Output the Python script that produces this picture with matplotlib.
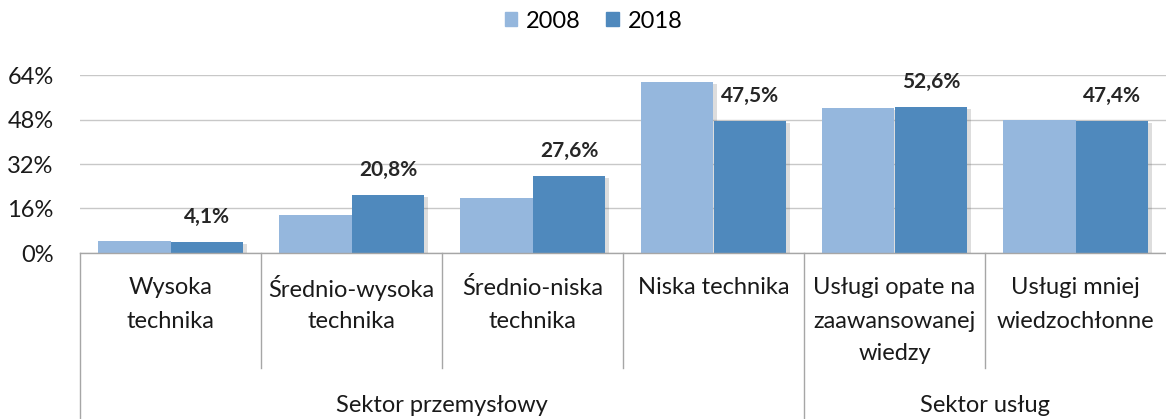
import matplotlib
matplotlib.use("Agg")
import matplotlib.pyplot as plt
import matplotlib.patheffects as pe
from matplotlib.patches import Patch
import numpy as np

plt.rcParams['font.family'] = ['Lato', 'DejaVu Sans']

# data
categories = ["Wysoka\ntechnika", "Średnio-wysoka\ntechnika", "Średnio-niska\ntechnika",
              "Niska technika", "Usługi opate na\nzaawansowanej\nwiedzy", "Usługi mniej\nwiedzochłonne"]
groups = ["Sektor przemysłowy", "Sektor usług"]
group_sizes = [4, 2]
values_2008 = [4.4, 13.8, 19.9, 61.6, 52.2, 47.8]
values_2018 = [4.1, 20.8, 27.6, 47.5, 52.6, 47.4]
labels_2018 = ["4,1%", "20,8%", "27,6%", "47,5%", "52,6%", "47,4%"]
yticks = [0, 16, 32, 48, 64]

c2008 = "#95B7DD"
c2018 = "#4F89BD"
line_gray = "#A6A6A6"
text_col = "#1A1A1A"
fs = 17

W, H = 1166, 419
fig = plt.figure(figsize=(W / 100, H / 100), dpi=100)
ax_left, ax_right, ax_top, ax_bottom = 80, 1166, 75, 253
ax = fig.add_axes([ax_left / W, 1 - ax_bottom / H, (ax_right - ax_left) / W, (ax_bottom - ax_top) / H])

x = np.arange(len(categories))
bw = 0.403
shadow = [pe.SimplePatchShadow(offset=(2.5, -1.5), shadow_rgbFace="#666666", alpha=0.22), pe.Normal()]
b1 = ax.bar(x - bw / 2, values_2008, bw, color=c2008, zorder=3)
b2 = ax.bar(x + bw / 2, values_2018, bw, color=c2018, zorder=3)
for b in list(b1) + list(b2):
    b.set_path_effects(shadow)

for xi, v, lab in zip(x, values_2018, labels_2018):
    ax.annotate(lab, (xi + bw / 2, v), xytext=(0, 18), textcoords="offset points",
                ha="center", va="center", fontsize=15, fontweight="bold", color="#262626")

ax.set_xlim(-0.5, len(categories) - 0.5)
ax.set_ylim(0, 64)
ax.set_yticks(yticks)
ax.set_yticklabels([f"{t}%" for t in yticks], fontsize=fs, color=text_col)
ax.tick_params(axis="y", length=0, pad=19)
ax.set_xticks([])
ax.grid(axis="y", color="#C8C8C8", linewidth=1.0, zorder=0)
for s in ["top", "right", "left"]:
    ax.spines[s].set_visible(False)
ax.spines["bottom"].set_color(line_gray)
ax.spines["bottom"].set_linewidth(1.0)
ax.spines["bottom"].set_zorder(4)

# multi-level category axis
ah = ax_bottom - ax_top
def yfrac(px):
    return (ax_bottom - px) / ah

tr = ax.get_xaxis_transform()
line_ys = [288, 321, 354]
for xi, cat in enumerate(categories):
    for j, line in enumerate(cat.split("\n")):
        ax.text(xi, yfrac(line_ys[j]), line, transform=tr, ha="center", va="center",
                fontsize=fs, color=text_col, clip_on=False)

outer = [-0.5]
acc = -0.5
for n in group_sizes:
    acc += n
    outer.append(acc)
for k in range(len(categories)):
    xb = k - 0.5
    bottom_px = 419 if xb in outer else 368
    ax.plot([xb, xb], [0, yfrac(bottom_px)], transform=tr, color=line_gray,
            linewidth=1.0, clip_on=False)

start = -0.5
for g, n in zip(groups, group_sizes):
    ax.text(start + n / 2, yfrac(406), g, transform=tr, ha="center", va="center",
            fontsize=fs, color=text_col, clip_on=False)
    start += n

handles = [Patch(color=c2008, label="2008"), Patch(color=c2018, label="2018")]
fig.legend(handles=handles, loc="center", bbox_to_anchor=(0.509, 1 - 21 / H), ncol=2,
           frameon=False, fontsize=fs, handlelength=0.55, handleheight=0.55,
           handletextpad=0.35, columnspacing=1.1)

fig.savefig("out.png", dpi=100)
